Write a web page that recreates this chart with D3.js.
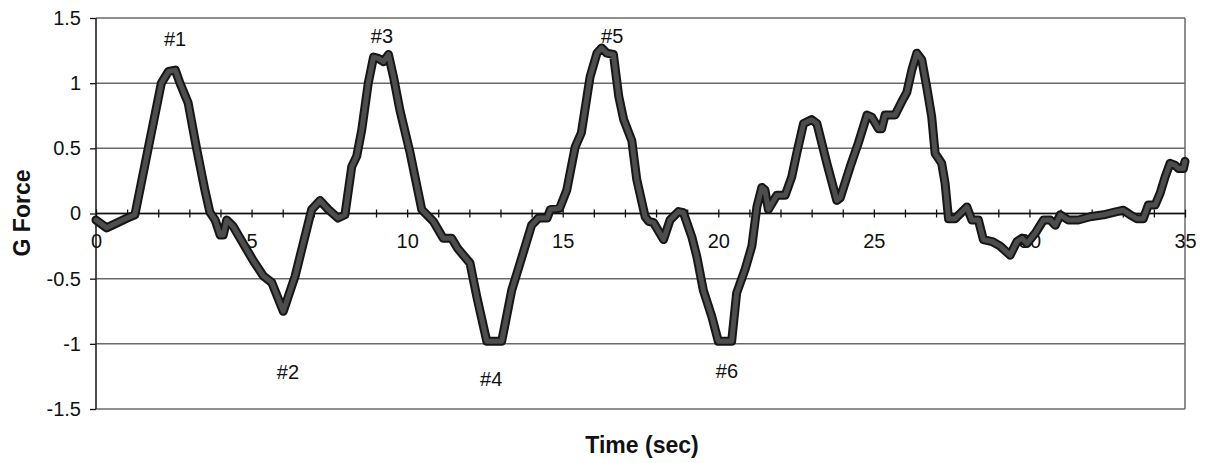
<!DOCTYPE html>
<html lang="en">

<head>
  <meta charset="utf-8">
  <title>G Force vs Time</title>
  <script src="https://cdn.jsdelivr.net/npm/d3@7/dist/d3.min.js"></script>
  <style>
    body {
      margin: 0;
      background: #fff;
    }

    text {
      font-family: "Liberation Sans", Arial, sans-serif;
      fill: #111;
    }

    .axis path {
      display: none;
    }

    .axis line {
      stroke: #111;
      stroke-width: 1.3;
    }

    .axis text {
      font-size: 20px;
    }
  </style>
</head>

<body>
  <div id="chart"></div>
  <script>
    const time = [0, 0.34, 1.0, 1.25, 1.67, 2.1, 2.33, 2.55, 2.7, 2.96, 3.24, 3.5, 3.66, 3.83, 3.99, 4.09, 4.2, 4.41, 4.73,
      5.05, 5.38, 5.65, 6.02, 6.4, 6.66, 6.93, 7.2, 7.47, 7.78, 8.0, 8.22, 8.38, 8.54, 8.75, 8.92, 9.07, 9.24, 9.4, 9.56,
      9.77, 10.1, 10.47, 10.84, 11.16, 11.43, 11.63, 12.02, 12.24, 12.56, 13.04, 13.36, 13.63, 14.0, 14.22, 14.5, 14.6,
      14.9, 15.13, 15.4, 15.6, 15.88, 16.1, 16.25, 16.42, 16.63, 16.8, 16.96, 17.22, 17.38, 17.65, 17.76, 17.92, 18.24,
      18.45, 18.72, 18.88, 19.15, 19.31, 19.52, 19.79, 20.0, 20.43, 20.59, 20.86, 21.08, 21.24, 21.4, 21.5, 21.61, 21.88,
      22.15, 22.36, 22.52, 22.74, 23.0, 23.17, 23.49, 23.81, 23.92, 24.24, 24.5, 24.78, 24.93, 25.15, 25.25, 25.36, 25.68,
      25.9, 26.06, 26.22, 26.38, 26.54, 26.7, 26.86, 26.97, 27.18, 27.29, 27.4, 27.61, 27.99, 28.15, 28.36, 28.52, 28.8,
      29.06, 29.38, 29.6, 29.76, 29.92, 30.19, 30.45, 30.67, 30.83, 30.99, 31.25, 31.57, 31.95, 32.38, 32.81, 33.02,
      33.24, 33.45, 33.66, 33.82, 34.04, 34.2, 34.36, 34.52, 34.68, 34.79, 34.95, 35.0]
    const gForce = [-0.05, -0.11, -0.035, -0.01, 0.49, 1.0, 1.09, 1.1, 1.0, 0.85, 0.49, 0.18, 0.01, -0.05, -0.165, -0.165,
      -0.05, -0.1, -0.23, -0.36, -0.48, -0.53, -0.75, -0.48, -0.23, 0.03, 0.1, 0.03, -0.035, -0.01, 0.36, 0.44, 0.64,
      1.0, 1.2, 1.19, 1.165, 1.22, 1.05, 0.79, 0.46, 0.03, -0.06, -0.19, -0.19, -0.27, -0.38, -0.64, -0.98, -0.98, -0.59,
      -0.38, -0.09, -0.035, -0.035, 0.03, 0.04, 0.18, 0.51, 0.62, 1.05, 1.23, 1.27, 1.23, 1.22, 0.9, 0.72, 0.56, 0.26,
      -0.025, -0.06, -0.07, -0.2, -0.05, 0.015, 0.006, -0.18, -0.33, -0.59, -0.79, -0.98, -0.98, -0.61, -0.43, -0.25,
      0.05, 0.2, 0.18, 0.03, 0.14, 0.14, 0.28, 0.46, 0.69, 0.72, 0.69, 0.385, 0.1, 0.12, 0.36, 0.54, 0.755, 0.74, 0.65,
      0.65, 0.755, 0.755, 0.86, 0.93, 1.1, 1.23, 1.18, 0.97, 0.74, 0.46, 0.385, 0.23, -0.04, -0.04, 0.05, -0.05, -0.05,
      -0.2, -0.215, -0.25, -0.32, -0.215, -0.19, -0.23, -0.15, -0.05, -0.05, -0.09, -0.01, -0.05, -0.05, -0.025, -0.01,
      0.015, 0.025, -0.01, -0.04, -0.04, 0.065, 0.065, 0.155, 0.28, 0.385, 0.37, 0.345, 0.345, 0.4]

    const xTicks = d3.range(0, 36, 1)
    const xLabels = [0, 5, 10, 15, 20, 25, 30, 35]
    const yTicks = [-1.5, -1, -0.5, 0, 0.5, 1, 1.5]

    // peak markers
    const peakNames = ['#1', '#2', '#3', '#4', '#5', '#6']
    const peakTime = [2.54, 6.17, 9.19, 12.7, 16.59, 20.28]
    const peakG = [1.34, -1.215, 1.36, -1.27, 1.36, -1.21]

    const width = 1206
    const height = 463
    const margin = { top: 18, right: 21, bottom: 54, left: 96 }
    const innerW = width - margin.left - margin.right
    const innerH = height - margin.top - margin.bottom

    const svg = d3.select('#chart')
      .append('svg')
      .attr('width', width)
      .attr('height', height)

    const g = svg.append('g')
      .attr('transform', `translate(${margin.left}, ${margin.top})`)

    const x = d3.scaleLinear().domain([0, 35]).range([0, innerW])
    const y = d3.scaleLinear().domain([-1.5, 1.5]).range([innerH, 0])

    // horizontal grid lines
    g.selectAll('.grid')
      .data(yTicks)
      .enter()
      .append('line')
      .attr('x1', 0)
      .attr('x2', innerW)
      .attr('y1', d => y(d))
      .attr('y2', d => y(d))
      .attr('stroke', '#6a6a6a')
      .attr('stroke-width', 1.5)

    // right border
    g.append('line')
      .attr('x1', innerW).attr('x2', innerW)
      .attr('y1', 0).attr('y2', innerH)
      .attr('stroke', '#6a6a6a')
      .attr('stroke-width', 1.5)

    // y axis
    const yAxis = d3.axisLeft(y)
      .tickValues(yTicks)
      .tickSize(6)
      .tickPadding(9)
      .tickFormat(d => String(d))
    g.append('g').attr('class', 'axis').call(yAxis)
    g.append('line')
      .attr('x1', 0).attr('x2', 0)
      .attr('y1', 0).attr('y2', innerH)
      .attr('stroke', '#222')
      .attr('stroke-width', 1.6)

    // x axis sits on the zero line, ticks cross it
    const xAxis = d3.axisBottom(x)
      .tickValues(xTicks)
      .tickSize(4)
      .tickFormat(d => xLabels.includes(d) ? d : '')
    const xg = g.append('g')
      .attr('class', 'axis')
      .attr('transform', `translate(0, ${y(0)})`)
      .call(xAxis)
    xg.selectAll('.tick line').attr('y1', -4).attr('y2', 4)
    xg.selectAll('.tick text').attr('y', 20)
    g.append('line')
      .attr('x1', 0).attr('x2', innerW)
      .attr('y1', y(0)).attr('y2', y(0))
      .attr('stroke', '#111')
      .attr('stroke-width', 1.5)

    // trace: black outline with a grey core
    const points = time.map((t, i) => [t, gForce[i]])
    const line = d3.line()
      .x(d => x(d[0]))
      .y(d => y(d[1]))

    g.append('path')
      .datum(points)
      .attr('d', line)
      .attr('fill', 'none')
      .attr('stroke', '#161616')
      .attr('stroke-width', 9)
      .attr('stroke-linejoin', 'round')
      .attr('stroke-linecap', 'round')

    g.append('path')
      .datum(points)
      .attr('d', line)
      .attr('fill', 'none')
      .attr('stroke', '#4d4d4d')
      .attr('stroke-width', 5)
      .attr('stroke-linejoin', 'round')
      .attr('stroke-linecap', 'round')

    // peak labels
    g.selectAll('.peak')
      .data(peakNames)
      .enter()
      .append('text')
      .attr('x', (d, i) => x(peakTime[i]))
      .attr('y', (d, i) => y(peakG[i]))
      .attr('dy', '0.35em')
      .attr('text-anchor', 'middle')
      .style('font-size', '20px')
      .text(d => d)

    // axis titles
    svg.append('text')
      .attr('x', 642)
      .attr('y', 445)
      .attr('dy', '0.35em')
      .attr('text-anchor', 'middle')
      .style('font-size', '23px')
      .style('font-weight', 'bold')
      .text('Time (sec)')

    svg.append('text')
      .attr('transform', 'translate(22, 213) rotate(-90)')
      .attr('dy', '0.35em')
      .attr('text-anchor', 'middle')
      .style('font-size', '23px')
      .style('font-weight', 'bold')
      .text('G Force')
  </script>
</body>

</html>
